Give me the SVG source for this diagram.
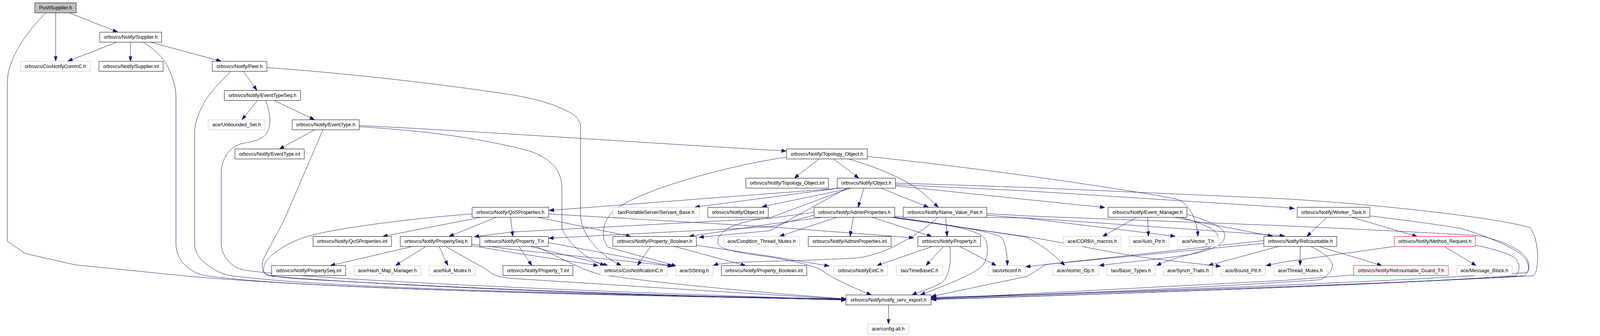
<svg xmlns="http://www.w3.org/2000/svg" width="4365" height="859" viewBox="0 0 4365 859" preserveAspectRatio="none">
<style>
svg{width:100vw;height:100vh}
.n rect{fill:#fff;stroke:#000;stroke-width:1}
.g rect{fill:#fff;stroke:#bfbfbf;stroke-width:1}
.r rect{fill:#fff;stroke:#ff0000;stroke-width:1}
.root rect{fill:#bfbfbf;stroke:#000;stroke-width:1}
text{font-family:"Liberation Sans",Arial,sans-serif;font-size:13.33px;text-anchor:middle;fill:#000}
#edges path{fill:none;stroke:#191970;stroke-width:1;marker-end:url(#a)}
</style>
<defs>
<marker id="a" markerUnits="userSpaceOnUse" markerWidth="14" markerHeight="10" refX="13" refY="4.5" orient="auto"><path d="M0,0 L13,4.5 L0,9 z" fill="#191970" stroke="#191970" stroke-width="1"/></marker>
</defs>
<rect x="0" y="0" width="4365" height="859" fill="#fff"/>
<g id="edges">
<path d="M152,33 L152,156.5"/>
<path d="M190,33 L321,82"/>
<path d="M125,33 C100,55 60,100 40,140 C25,170 20,190 20,215 L20,617 L69,648 L205,677 L522,707 C1000,745 1800,757 2308,766"/>
<path d="M318,108 L185,156.5"/>
<path d="M356,108 L356,156.5"/>
<path d="M411,108 L603,156.5"/>
<path d="M391,108 C420,125 445,145 460,175 C474,205 480,225 480,250 L480,623 C481,650 492,667 510,682 C525,694 540,701 556,704 C800,738 1600,754 2308,764"/>
<path d="M664,182.5 L701,231"/>
<path d="M630,182.5 C605,205 585,225 565,250 C545,280 531,310 531,340 L531,623 C532,645 542,660 560,673 C580,688 600,699 625,704 C900,740 1700,752 2308,765"/>
<path d="M728,173 C1000,190 1300,228 1400,243 C1450,251 1490,261 1516,271 C1540,280 1557,288 1566,294 C1576,302 1584,312 1584,325 L1584,553 C1587,585 1605,615 1640,645 C1660,662 1680,672 1695,679"/>
<path d="M703,256.5 L660,306"/>
<path d="M747,256.5 L858,306"/>
<path d="M725,256.5 C738,290 742,322 725,344 C712,358 690,362 655,368 C632,376 618,392 610,410 C605,422 603.5,432 603.5,450 L603.5,623 C605,652 622,673 652,687 C700,705 1400,740 2308,766"/>
<path d="M858,332 L762,381"/>
<path d="M881,332 L775,563 L718,663 C712,690 716,702 740,706 C1200,740 1800,755 2308,767"/>
<path d="M980,321 C1300,335 1800,368 2145,386"/>
<path d="M980,324 C1200,336 1350,362 1448,387 C1480,398 1505,415 1516,430 C1526,442 1533,460 1533,480 L1533,583 C1540,603 1560,627 1600,655 C1620,668 1640,675 1650,679"/>
<path d="M2234,406.5 L2167,455.5"/>
<path d="M2274,406.5 L2343,455.5"/>
<path d="M2316,406.5 C2400,430 2480,462 2520,495 L2560,530"/>
<path d="M2366,400 C2700,432 3100,488 3215,510 C3245,525 3266,560 3268,604.5"/>
<path d="M2146,402 C2000,420 1720,490 1668,545 C1640,575 1640,612 1659,632 L1845,680"/>
<path d="M2296,481 L1498,538"/>
<path d="M2290,481 L1896,529.5"/>
<path d="M2323,481 L2079,528.5"/>
<path d="M2357,481 L2341,530"/>
<path d="M2404,481 L2533,530"/>
<path d="M2443,475 L2800,510 L3014,530.5"/>
<path d="M2443,472 L2800,488 L3500,530 L3531,533"/>
<path d="M2443,468 L2800,479 L3500,508 C3800,525 4100,560 4174,582 C4190,600 4196,640 4195,663 C4194,685 4190,700 4183,705 C3700,730 2900,752 2541,760"/>
<path d="M2310,481 L2100,590 L1907,606.5"/>
<path d="M2318,481 L2100,557 C2050,562 2016,570 1990,582 C1965,595 1954,610 1960,625 C1966,636 2000,645 2100,657 C2180,670 2220,680 2240,690 C2262,705 2300,725 2377,754"/>
<path d="M2221,543 L2100,558 L1400,593 L1294,605"/>
<path d="M2221,550 L2100,580 L1497,609"/>
<path d="M2245,555.5 L2100,573 L1880,604.5"/>
<path d="M2283,555.5 L2127,604"/>
<path d="M2328,555.5 L2319,604"/>
<path d="M2379,555.5 L2542,604.5"/>
<path d="M2430,555.5 C2600,575 2725,595 2735,610 C2745,630 2748,650 2748,679"/>
<path d="M2441,555 L2800,606 C2850,630 2880,655 2905,679"/>
<path d="M2441,553 L2800,557 L3504,603"/>
<path d="M2441,557 L2800,605 C2900,620 3000,640 3112,657 C3200,668 3270,674 3330,681"/>
<path d="M2439,555.5 C2600,575 2680,590 2690,615 C2700,645 2690,670 2676,683 C2640,710 2560,735 2511,754"/>
<path d="M2580,555.5 L2584,604.5"/>
<path d="M2558,555.5 C2520,590 2470,615 2439,630 C2400,648 2360,658 2332,660 C2250,664 2150,667 2100,668 C2000,670 1960,674 1946,679"/>
<path d="M2692,550 L2800,558 L3206,604"/>
<path d="M2692,546 L2800,552 L3500,577 C3800,590 4000,600 4036,603 C4100,615 4145,635 4165,660 C4175,680 4172,692 4165,697 C3700,725 2900,752 2541,763"/>
<path d="M2544,630 L2392,679"/>
<path d="M2574,630 L2526,679"/>
<path d="M2618,630 L2718,679"/>
<path d="M2591,630 C2596,660 2592,700 2573,720 C2550,735 2510,745 2488,754"/>
<path d="M1775,630 L1739,679"/>
<path d="M1840,630 L2034,679"/>
<path d="M1900,627 L2100,655 L2262,680"/>
<path d="M1312,555.5 L1044,604.5"/>
<path d="M1354,555.5 L1225,604.5"/>
<path d="M1393,555.5 L1399,604.5"/>
<path d="M1467,555.5 L1721,604.5"/>
<path d="M1497,547 L2100,580 L2493,608"/>
<path d="M1288,547 C1100,560 914,585 847,602 C800,615 771,630 745,650 C725,665 716,680 720,695 C724,705 760,708 800,712 C1300,740 1900,758 2308,767"/>
<path d="M1126,630 L901,679"/>
<path d="M1162,630 L1079,679"/>
<path d="M1198,630 L1222,679"/>
<path d="M1216,630 C1270,660 1320,683 1343,700 C1360,708 1380,711 1400,712 C1700,730 2000,748 2308,765"/>
<path d="M1287,628 L1400,646 L1632,679"/>
<path d="M1287,624 L1400,638 L1834,680"/>
<path d="M1416,630 L1451,679"/>
<path d="M1447,630 L1659,679"/>
<path d="M1496,620 L1838,681"/>
<path d="M1462,630 C1530,660 1600,695 1640,702 C1800,725 2100,750 2308,764"/>
<path d="M3101,555.5 L3008,604.5"/>
<path d="M3131,555.5 L3133,604.5"/>
<path d="M3204,555.5 L3472,604"/>
<path d="M3238,548 C3320,570 3350,590 3340,610 C3330,630 3300,640 3250,650 C3150,665 3050,672 2999,679"/>
<path d="M3220,555.5 C3300,575 3330,595 3322,612 C3312,630 3290,640 3240,652 C3200,662 3175,670 3155,679"/>
<path d="M3547,630 L3547,679"/>
<path d="M3598,630 L3770,679"/>
<path d="M3488,630 L3296,679"/>
<path d="M3448,615 L2798,682"/>
<path d="M3448,622 L2854,676 C2830,690 2815,700 2800,707 L2541,758"/>
<path d="M3576,630 C3620,650 3640,670 3634,685 C3628,700 3615,710 3603,715 C3300,735 2900,752 2541,762"/>
<path d="M3804,630 L3500,670 L3454,679"/>
<path d="M3940,630 L4027,679"/>
<path d="M4025,627 C4080,637 4120,650 4134,660 C4148,675 4147,690 4136,705 C3700,732 2900,755 2541,766"/>
<path d="M3620,555.5 L3565,604.5"/>
<path d="M3688,555.5 L3866,604.5"/>
<path d="M3737,552 C3850,565 3946,577 3990,585 C4053,603 4140,635 4160,660 C4175,680 4172,695 4158,705 C3700,732 2900,755 2541,765"/>
<path d="M3693,703 L3500,717 L2541,764"/>
<path d="M2424,779.5 L2424,828.5"/>
</g>
<g id="n1" class="root"><rect x="95" y="7.3" width="113" height="25.5"/><text x="151.5" y="24.3">PushSupplier.h</text></g>
<g id="n2" class="n"><rect x="272" y="82.3" width="169" height="25.5"/><text x="356.5" y="99.3">orbsvcs/Notify/Supplier.h</text></g>
<g id="n3" class="g"><rect x="56" y="156.8" width="190" height="25.5"/><text x="151" y="173.8">orbsvcs/CosNotifyCommC.h</text></g>
<g id="n4" class="n"><rect x="270" y="156.8" width="175" height="25.5"/><text x="357.5" y="173.8">orbsvcs/Notify/Supplier.inl</text></g>
<g id="n5" class="n"><rect x="579" y="156.8" width="149" height="25.5"/><text x="653.5" y="173.8">orbsvcs/Notify/Peer.h</text></g>
<g id="n6" class="n"><rect x="612" y="231.3" width="208" height="25.5"/><text x="716" y="248.3">orbsvcs/Notify/EventTypeSeq.h</text></g>
<g id="n7" class="g"><rect x="568" y="306.3" width="155" height="25.5"/><text x="645.5" y="323.3">ace/Unbounded_Set.h</text></g>
<g id="n8" class="n"><rect x="797" y="306.3" width="183" height="25.5"/><text x="888.5" y="323.3">orbsvcs/Notify/EventType.h</text></g>
<g id="n9" class="n"><rect x="641" y="380.8" width="189" height="25.5"/><text x="735.5" y="397.8">orbsvcs/Notify/EventType.inl</text></g>
<g id="n10" class="n"><rect x="2146" y="380.8" width="220" height="25.5"/><text x="2256" y="397.8">orbsvcs/Notify/Topology_Object.h</text></g>
<g id="n11" class="n"><rect x="2035" y="455.5" width="225" height="25.5"/><text x="2147.5" y="472.5">orbsvcs/Notify/Topology_Object.inl</text></g>
<g id="n12" class="n"><rect x="2284" y="455.5" width="159" height="25.5"/><text x="2363.5" y="472.5">orbsvcs/Notify/Object.h</text></g>
<g id="n13" class="n"><rect x="1288" y="530" width="209" height="25.5"/><text x="1392.5" y="547">orbsvcs/Notify/QoSProperties.h</text></g>
<g id="n14" class="g"><rect x="1672" y="530" width="236" height="25.5"/><text x="1790" y="547">tao/PortableServer/Servant_Base.h</text></g>
<g id="n15" class="n"><rect x="1931" y="530" width="165" height="25.5"/><text x="2013.5" y="547">orbsvcs/Notify/Object.inl</text></g>
<g id="n16" class="n"><rect x="2221" y="530" width="220" height="25.5"/><text x="2331" y="547">orbsvcs/Notify/AdminProperties.h</text></g>
<g id="n17" class="n"><rect x="2464" y="530" width="228" height="25.5"/><text x="2578" y="547">orbsvcs/Notify/Name_Value_Pair.h</text></g>
<g id="n18" class="n"><rect x="3023" y="530" width="215" height="25.5"/><text x="3130.5" y="547">orbsvcs/Notify/Event_Manager.h</text></g>
<g id="n19" class="n"><rect x="3539" y="530" width="198" height="25.5"/><text x="3638" y="547">orbsvcs/Notify/Worker_Task.h</text></g>
<g id="n20" class="n"><rect x="854" y="604.5" width="214" height="25.5"/><text x="961" y="621.5">orbsvcs/Notify/QoSProperties.inl</text></g>
<g id="n21" class="n"><rect x="1092" y="604.5" width="195" height="25.5"/><text x="1189.5" y="621.5">orbsvcs/Notify/PropertySeq.h</text></g>
<g id="n22" class="n"><rect x="1309" y="604.5" width="187" height="25.5"/><text x="1402.5" y="621.5">orbsvcs/Notify/Property_T.h</text></g>
<g id="n23" class="n"><rect x="1672" y="604.5" width="228" height="25.5"/><text x="1786" y="621.5">orbsvcs/Notify/Property_Boolean.h</text></g>
<g id="n24" class="g"><rect x="1974" y="604.5" width="207" height="25.5"/><text x="2077.5" y="621.5">ace/Condition_Thread_Mutex.h</text></g>
<g id="n25" class="n"><rect x="2205" y="604.5" width="226" height="25.5"/><text x="2318" y="621.5">orbsvcs/Notify/AdminProperties.inl</text></g>
<g id="n26" class="n"><rect x="2504" y="604.5" width="171" height="25.5"/><text x="2589.5" y="621.5">orbsvcs/Notify/Property.h</text></g>
<g id="n27" class="g"><rect x="2901" y="604.5" width="157" height="25.5"/><text x="2979.5" y="621.5">ace/CORBA_macros.h</text></g>
<g id="n28" class="g"><rect x="3080" y="604.5" width="109" height="25.5"/><text x="3134.5" y="621.5">ace/Auto_Ptr.h</text></g>
<g id="n29" class="g"><rect x="3213" y="604.5" width="111" height="25.5"/><text x="3268.5" y="621.5">ace/Vector_T.h</text></g>
<g id="n30" class="n"><rect x="3448" y="604.5" width="199" height="25.5"/><text x="3547.5" y="621.5">orbsvcs/Notify/Refcountable.h</text></g>
<g id="n31" class="r"><rect x="3804" y="604.5" width="221" height="25.5"/><text x="3914.5" y="621.5">orbsvcs/Notify/Method_Request.h</text></g>
<g id="n32" class="n"><rect x="741" y="679" width="202" height="25.5"/><text x="842" y="696">orbsvcs/Notify/PropertySeq.inl</text></g>
<g id="n33" class="g"><rect x="966" y="679" width="182" height="25.5"/><text x="1057" y="696">ace/Hash_Map_Manager.h</text></g>
<g id="n34" class="g"><rect x="1171" y="679" width="125" height="25.5"/><text x="1233.5" y="696">ace/Null_Mutex.h</text></g>
<g id="n35" class="n"><rect x="1372" y="679" width="191" height="25.5"/><text x="1467.5" y="696">orbsvcs/Notify/Property_T.inl</text></g>
<g id="n36" class="g"><rect x="1637" y="679" width="183" height="25.5"/><text x="1728.5" y="696">orbsvcs/CosNotificationC.h</text></g>
<g id="n37" class="g"><rect x="1843" y="679" width="102" height="25.5"/><text x="1894" y="696">ace/SString.h</text></g>
<g id="n38" class="n"><rect x="1968" y="679" width="233" height="25.5"/><text x="2084.5" y="696">orbsvcs/Notify/Property_Boolean.inl</text></g>
<g id="n39" class="g"><rect x="2275" y="679" width="146" height="25.5"/><text x="2348" y="696">orbsvcs/NotifyExtC.h</text></g>
<g id="n40" class="g"><rect x="2445" y="679" width="127" height="25.5"/><text x="2508.5" y="696">tao/TimeBaseC.h</text></g>
<g id="n41" class="g"><rect x="2696" y="679" width="101" height="25.5"/><text x="2746.5" y="696">tao/orbconf.h</text></g>
<g id="n42" class="g"><rect x="2872" y="679" width="124" height="25.5"/><text x="2934" y="696">ace/Atomic_Op.h</text></g>
<g id="n43" class="g"><rect x="3020" y="679" width="131" height="25.5"/><text x="3085.5" y="696">tao/Basic_Types.h</text></g>
<g id="n44" class="g"><rect x="3174" y="679" width="134" height="25.5"/><text x="3241" y="696">ace/Synch_Traits.h</text></g>
<g id="n45" class="g"><rect x="3331" y="679" width="121" height="25.5"/><text x="3391.5" y="696">ace/Bound_Ptr.h</text></g>
<g id="n46" class="g"><rect x="3475" y="679" width="145" height="25.5"/><text x="3547.5" y="696">ace/Thread_Mutex.h</text></g>
<g id="n47" class="r"><rect x="3693" y="679" width="258" height="25.5"/><text x="3822" y="696">orbsvcs/Notify/Refcountable_Guard_T.h</text></g>
<g id="n48" class="g"><rect x="3974" y="679" width="151" height="25.5"/><text x="4049.5" y="696">ace/Message_Block.h</text></g>
<g id="n49" class="n"><rect x="2308" y="754" width="232" height="25.5"/><text x="2424" y="771">orbsvcs/Notify/notify_serv_export.h</text></g>
<g id="n50" class="g"><rect x="2367" y="828.5" width="112" height="25.5"/><text x="2423" y="845.5">ace/config-all.h</text></g>
</svg>
